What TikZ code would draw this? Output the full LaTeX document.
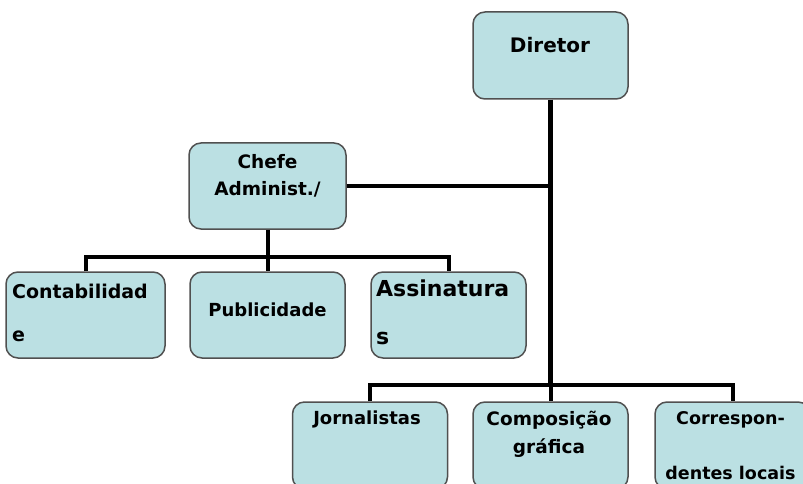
\documentclass[tikz,border=0pt]{standalone}
\usepackage{fontspec}
\setmainfont{DejaVu Sans}
\definecolor{boxfill}{RGB}{187,224,227}
\definecolor{boxline}{RGB}{80,80,80}
\tikzset{
  orgbox/.style={rectangle, rounded corners=12pt, draw=boxline, line width=1.5pt,
    fill=boxfill, minimum width=155pt, minimum height=87pt, inner sep=0pt},
  lbl/.style={inner sep=0pt, anchor=north, align=center, text=black},
  lbll/.style={inner sep=0pt, anchor=north west, align=left, text=black},
  conn/.style={line width=4pt, draw=black},
  mainconn/.style={line width=5pt, draw=black}
}
\begin{document}
\begin{tikzpicture}[x=1pt,y=-1pt]
\useasboundingbox (0,0) rectangle (803,484);
\clip (0,0) rectangle (803,484);
\fill[white] (0,0) rectangle (803,484);
% connector coordinates
\coordinate (bus1) at (267.5,257);
\coordinate (bus2) at (550.5,385);
% boxes
\node[orgbox] (dir) at (550.5,55.5) {};
\node[orgbox, minimum width=157pt, minimum height=86pt] (chefe) at (267.5,186) {};
\node[orgbox, minimum width=159pt, minimum height=86pt] (con) at (85.5,315) {};
\node[orgbox, minimum height=86pt] (pub) at (267.5,315) {};
\node[orgbox, minimum height=86pt] (ass) at (448.5,315) {};
\node[orgbox] (jor) at (370,445.5) {};
\node[orgbox] (com) at (550.5,445.5) {};
\node[orgbox] (cor) at (732.5,445.5) {};
% connectors
\draw[mainconn] (dir.south) -- (bus2);
\draw[conn] (chefe.east) -- (chefe.east -| dir.south);
\draw[conn] (chefe.south) -- (bus1);
\draw[conn] (con.north) |- (ass.north |- bus1) -- (ass.north);
\draw[conn] (bus1) -- (pub.north);
\draw[conn] (jor.north) |- (cor.north |- bus2) -- (cor.north);
\draw[conn] (bus2) -- (com.north);
% texts
\node[lbl, font=\fontsize{20}{24}\selectfont\bfseries] (tdir) at (550,37) {Diretor};
\node[lbl, font=\fontsize{18.5}{27}\selectfont\bfseries] (tchefe) at (267.5,154) {Chefe\\Administ./};
\node[lbll, font=\fontsize{19}{43}\selectfont\bfseries] (tcon) at (12,283.5) {Contabilidad\\e};
\node[lbl, font=\fontsize{18}{22}\selectfont\bfseries] (tpub) at (267.5,303) {Publicidade};
\node[lbll, font=\fontsize{22}{48}\selectfont\bfseries] (tass) at (376,280) {Assinatura\\s};
\node[lbl, font=\fontsize{18}{22}\selectfont\bfseries] (tjor) at (367,411) {Jornalistas};
\node[lbl, font=\fontsize{18.5}{28}\selectfont\bfseries] (tcom) at (549,411) {Composição\\gráfica};
\node[lbl, font=\fontsize{17.5}{55}\selectfont\bfseries] (tcor) at (730.5,411) {Correspon-\\dentes locais};
\end{tikzpicture}
\end{document}
